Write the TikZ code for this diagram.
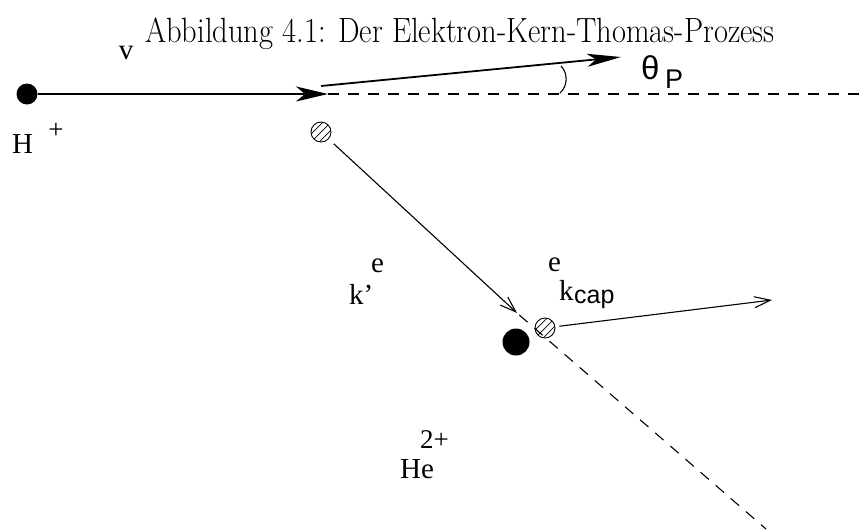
\documentclass[tikz,border=0pt]{standalone}
\usepackage{fontspec}
\newfontfamily\labelfont{Liberation Serif}
\newfontfamily\subfont{Liberation Sans}
\usetikzlibrary{arrows.meta}

\begin{document}
\begin{tikzpicture}[
        x=1pt, y=-1pt,
        proton/.style={circle, fill=black, inner sep=0pt, minimum size=21pt},
        nucleus/.style={circle, fill=black, inner sep=0pt, minimum size=27pt},
        electron/.style={circle, draw, line width=0.9pt, inner sep=0pt, minimum size=20pt,
            path picture={
                \foreach \d in {-4,0,4}
                    \draw[line width=0.7pt] ([shift={({\d-12},{\d+12})}]path picture bounding box.center)
                        -- ([shift={({\d+12},{\d-12})}]path picture bounding box.center);
            }},
        txt/.style={inner sep=0pt, font=\labelfont\fontsize{29}{31}\selectfont},
        smalltxt/.style={inner sep=0pt, font=\labelfont\fontsize{27}{29}\selectfont},
        subtxt/.style={inner sep=0pt, font=\subfont\fontsize{25}{27}\selectfont},
        fast/.style={draw, line width=1.8pt, -{Stealth[length=32pt, width=15pt, inset=9pt]}},
        slow/.style={draw, line width=1.1pt, -{Straight Barb[length=16pt, width=11pt]}},
        track/.style={draw, line width=1.1pt, dash pattern=on 11pt off 9pt},
    ]
    \useasboundingbox (0,0) rectangle (862,531);

    % Title
    \node[inner sep=0pt, anchor=base, font=\fontsize{30.5}{33}\selectfont] (title) at (460,42)
        {\scalebox{1}[1.15]{Abbildung 4.1: Der Elektron-Kern-Thomas-Prozess}};

    % === Projectile H+ ===
    \node[proton] (hplus) at (27,94) {};
    \node[txt, anchor=base west] (hname) at (12,153) {H};
    \node[smalltxt] (hcharge) at (56,131) {+};
    \coordinate (vtip) at (328,94);
    \coordinate (vend) at (862,94);
    \draw[fast] (hplus) -- (vtip);
    \draw[track] (vtip) -- (vend);
    \node[txt, anchor=base] (vname) at (126,59) {v};

    % deflected projectile
    \coordinate (pstart) at (321,86);
    \coordinate (ptip) at (621,57);
    \draw[fast, -{Stealth[length=34pt, width=13pt, inset=9pt]}] (pstart) -- (ptip);
    \coordinate (arcbot) at (560,93);
    \coordinate (arctop) at (561,66);
    \draw[line width=1.1pt] (arcbot) .. controls (568,86) and (568,73) .. (arctop);
    \node[subtxt, anchor=base west, font=\subfont\fontsize{33}{35}\selectfont] (theta) at (641,79) {θ};
    \node[subtxt, anchor=base west, font=\subfont\fontsize{27}{29}\selectfont] (thetasub) at (665,88) {P};

    % === Electron before capture ===
    \node[electron] (ein) at (321,132) {};
    \coordinate (ktip) at (517,313);
    \draw[slow, shorten <=7pt] (ein) -- (ktip);
    \node[txt, anchor=base west] (kname) at (349,304) {k’};
    \node[txt, anchor=base west] (kexp) at (371,272) {e};

    % === Target He2+ and captured electron ===
    \node[nucleus] (he) at (516,342) {};
    \node[electron] (eout) at (545,328) {};
    \coordinate (dend) at (766,529);
    \draw[track, shorten <=3pt] (ktip) -- (dend);
    \coordinate (kcaptip) at (772,300);
    \draw[slow, shorten <=4pt] (eout) -- (kcaptip);
    \node[txt, anchor=base west] (kcapname) at (559,300) {k};
    \node[subtxt, anchor=base west] (kcapsub) at (574,303) {cap};
    \node[txt, anchor=base west] (kcapexp) at (548,271) {e};

    \node[txt, anchor=base west] (hename) at (400,478) {He};
    \node[smalltxt, anchor=base west] (hecharge) at (420,448) {2+};
\end{tikzpicture}
\end{document}
